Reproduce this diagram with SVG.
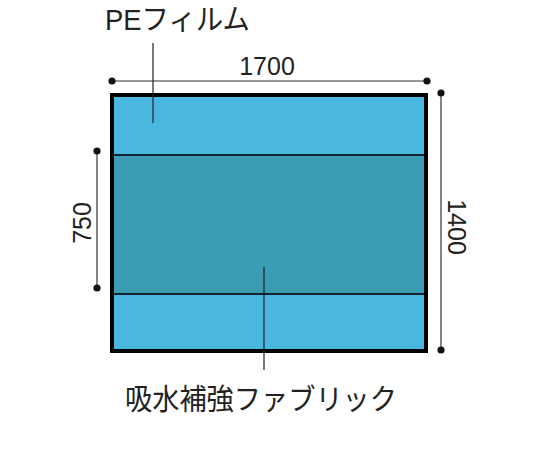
<svg xmlns="http://www.w3.org/2000/svg" width="540" height="450" viewBox="0 0 540 450">
<style>
.lbl{font-family:"Liberation Sans","Noto Sans CJK JP",sans-serif;fill:#222}
.dim{stroke:#333;stroke-width:1.2;fill:none}
.dot{fill:#111}
.lead{stroke:#222;stroke-width:1.2}
</style>
<rect width="540" height="450" fill="#fff"/>
<g id="sheet">
<rect x="112" y="95" width="314" height="256" fill="#4ab7e0"/>
<rect x="112" y="155" width="314" height="139" fill="#3a9db4"/>
<line x1="112" y1="155" x2="426" y2="155" stroke="#14242e" stroke-width="2"/>
<line x1="112" y1="294" x2="426" y2="294" stroke="#14242e" stroke-width="2"/>
<rect x="112" y="95" width="314" height="256" fill="none" stroke="#000" stroke-width="4"/>
</g>
<g id="connectors">
<line class="dim" x1="112" y1="81" x2="427" y2="81"/>
<circle class="dot" cx="112" cy="81" r="3.6"/>
<circle class="dot" cx="427" cy="81" r="3.6"/>
<line class="dim" x1="441" y1="93" x2="441" y2="350"/>
<circle class="dot" cx="441" cy="93" r="3.6"/>
<circle class="dot" cx="441" cy="350" r="3.6"/>
<line class="dim" x1="97" y1="151" x2="97" y2="288"/>
<circle class="dot" cx="97" cy="151" r="3.6"/>
<circle class="dot" cx="97" cy="288" r="3.6"/>
<line class="lead" x1="153" y1="43" x2="153" y2="123"/>
<line class="lead" x1="264" y1="267" x2="264" y2="370"/>
</g>
<g id="label-pe">
<text class="lbl" x="105" y="30" font-size="29" textLength="145" lengthAdjust="spacingAndGlyphs">PEフィルム</text>
</g>
<g id="label-fabric">
<text class="lbl" x="125" y="410" font-size="29" textLength="272" lengthAdjust="spacingAndGlyphs">吸水補強ファブリック</text>
</g>
<g id="dim-1700"><text class="lbl" x="267" y="75" font-size="25" text-anchor="middle">1700</text></g>
<g id="dim-1400"><text class="lbl" transform="translate(448,227) rotate(90)" font-size="25" text-anchor="middle">1400</text></g>
<g id="dim-750"><text class="lbl" transform="translate(91,223) rotate(-90)" font-size="25" text-anchor="middle">750</text></g>
</svg>
